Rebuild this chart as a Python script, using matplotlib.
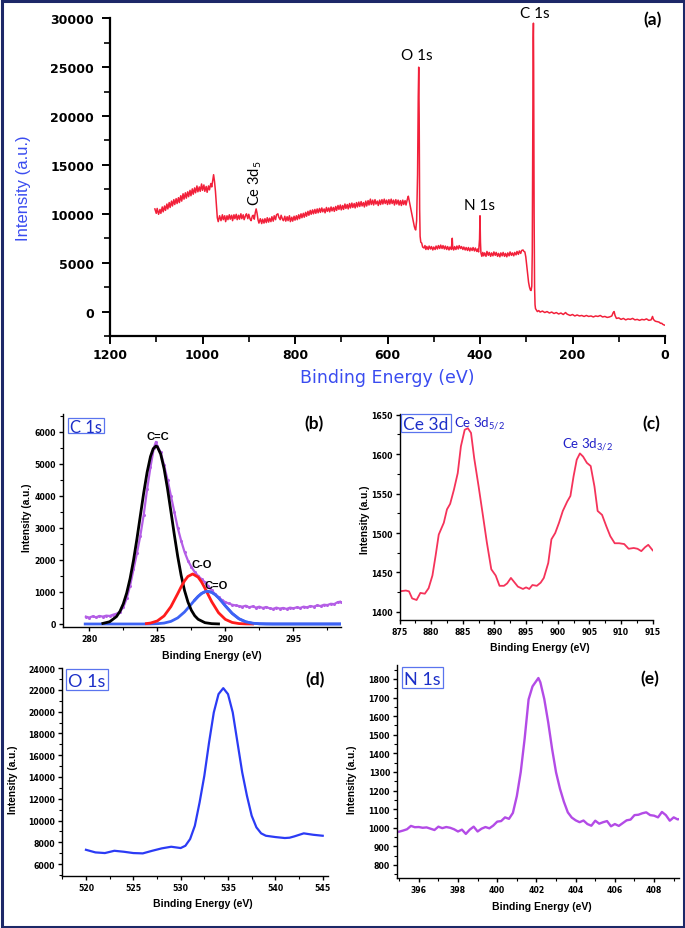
import matplotlib
matplotlib.use("Agg")
import matplotlib.pyplot as plt
from matplotlib.patches import Rectangle
from matplotlib.ticker import MultipleLocator

W, H = 685, 929

# ---------------- (a) survey spectrum ----------------
survey_be = [
    1103, 1100, 1098, 1095, 1092, 1090, 1087, 1085, 1082, 1080,
    1077, 1075, 1072, 1070, 1067, 1065, 1062, 1060, 1057, 1055,
    1052, 1050, 1047, 1045, 1042, 1040, 1037, 1035, 1032, 1030,
    1027, 1025, 1022, 1020, 1017, 1015, 1012, 1010, 1007, 1005,
    1002, 1000, 997, 995, 992, 990, 987, 985, 982, 980,
    978, 976, 974, 972, 970, 968, 966, 963, 960, 957,
    955, 952, 950, 947, 945, 942, 940, 937, 935, 932,
    930, 927, 925, 922, 920, 917, 915, 912, 910, 907,
    905, 902, 900, 897, 895, 892, 890, 888, 886, 884,
    882, 880, 878, 875, 872, 870, 867, 865, 862, 860,
    857, 855, 852, 850, 847, 845, 842, 840, 837, 835,
    832, 830, 827, 825, 822, 820, 817, 815, 812, 810,
    807, 805, 802, 800, 797, 795, 792, 790, 787, 785,
    782, 780, 777, 775, 772, 770, 767, 765, 762, 760,
    757, 755, 752, 750, 747, 745, 742, 740, 737, 735,
    732, 730, 727, 725, 722, 720, 717, 715, 712, 710,
    707, 705, 702, 700, 697, 695, 692, 690, 687, 685,
    682, 680, 677, 675, 672, 670, 667, 665, 662, 660,
    657, 655, 652, 650, 647, 645, 642, 640, 637, 635,
    632, 630, 627, 625, 622, 620, 617, 615, 612, 610,
    607, 605, 602, 600, 597, 595, 592, 590, 587, 585,
    582, 580, 577, 575, 572, 570, 567, 565, 562, 560,
    557, 555, 553, 550, 547, 544, 542, 540, 539, 537,
    535, 533.5, 532.5, 531.5, 530.5, 529.5, 528, 526, 524, 521,
    519, 517, 515, 512, 510, 507, 505, 502, 500, 497,
    495, 492, 490, 487, 485, 482, 480, 477, 475, 472,
    470, 467, 465, 462, 460, 459, 457, 455, 452, 450,
    447, 445, 442, 440, 437, 435, 432, 430, 427, 425,
    422, 420, 417, 415, 412, 410, 407, 405, 403, 401,
    400, 399, 398, 396, 394, 392, 390, 387, 385, 382,
    380, 377, 375, 372, 370, 367, 365, 362, 360, 357,
    355, 352, 350, 347, 345, 342, 340, 337, 335, 332,
    330, 327, 325, 322, 320, 317, 315, 312, 310, 307,
    305, 303, 301, 299, 297, 295, 293, 291, 289.5, 288,
    287, 286, 285, 284.5, 284, 283, 282, 281, 280, 278,
    276, 273, 270, 265, 260, 255, 250, 245, 240, 235,
    230, 225, 220, 215, 212, 210, 205, 200, 195, 190,
    185, 180, 175, 170, 165, 160, 155, 150, 145, 140,
    135, 130, 125, 120, 115, 112, 110, 108, 105, 100,
    95, 90, 85, 80, 75, 70, 65, 60, 55, 50,
    45, 40, 35, 30, 27, 25, 22, 20, 15, 12,
    10, 7, 5, 3, 0,
]
survey_counts = [
    10500, 10050, 10550, 9950, 10450, 10050, 10700, 10200, 10800, 10350,
    11000, 10500, 11150, 10650, 11300, 10800, 11450, 10950, 11550, 11050,
    11650, 11150, 11850, 11300, 12050, 11500, 12150, 11600, 12250, 11750,
    12400, 11850, 12550, 12000, 12650, 12150, 12850, 12250, 12750, 12300,
    13050, 12400, 12950, 12300, 12800, 12200, 12850, 12450, 13100, 12750,
    13400, 14000, 13300, 12300, 10900, 9600, 9200, 9800, 9300, 9900,
    9400, 9800, 9200, 9800, 9400, 9900, 9450, 9850, 9300, 9900,
    9500, 9950, 9400, 9850, 9450, 10000, 9500, 9900, 9400, 9800,
    10000, 9500, 9950, 9450, 9300, 9800, 9850, 9450, 10100, 10500,
    10050, 9400, 9050, 9500, 9000, 9450, 9050, 9500, 9100, 9600,
    9150, 9550, 9200, 9700, 9250, 9800, 9400, 9900, 10000, 9650,
    9400, 9850, 9450, 9300, 9750, 9250, 9700, 9300, 9800, 9200,
    9650, 9250, 9750, 9350, 9800, 9400, 9900, 9500, 10000, 9600,
    10050, 9650, 10150, 9750, 10250, 9850, 10350, 9950, 10400, 10000,
    10450, 10050, 10500, 10100, 10550, 10150, 10600, 10200, 10500, 10100,
    10650, 10250, 10600, 10200, 10700, 10300, 10650, 10250, 10750, 10350,
    10850, 10450, 10900, 10400, 10850, 10450, 11000, 10550, 10950, 10500,
    11050, 10600, 11100, 10650, 11050, 10600, 11150, 10700, 11200, 10750,
    11250, 10800, 11150, 10700, 11300, 10800, 11350, 10900, 11500, 10950,
    11400, 10900, 11450, 11000, 11300, 10850, 11400, 10950, 11450, 11000,
    11500, 11050, 11400, 10950, 11450, 11000, 11500, 11050, 11400, 10900,
    11450, 11000, 11400, 10900, 11350, 10850, 11400, 10950, 11350, 10900,
    11500, 11800, 11300, 10600, 9900, 9200, 8700, 8400, 8350, 9300,
    14000, 22000, 25000, 20000, 10500, 7700, 7100, 7000, 6600, 6500,
    6750, 6350, 6650, 6350, 6700, 6400, 6650, 6300, 6600, 6350,
    6700, 6400, 6750, 6450, 6800, 6450, 6750, 6400, 6700, 6350,
    6650, 6300, 6600, 6350, 7500, 6500, 6300, 6650, 6350, 6700,
    6400, 6750, 6450, 6650, 6350, 6600, 6300, 6550, 6250, 6550,
    6200, 6500, 6250, 6550, 6200, 6500, 6150, 6400, 6100, 7400,
    9800, 7100, 6000, 5650, 6050, 5700, 6000, 5650, 6150, 5750,
    6050, 5650, 6000, 5700, 6100, 5750, 6050, 5650, 5950, 5600,
    6000, 5700, 6050, 5650, 5950, 5600, 6000, 5700, 6100, 5750,
    6000, 5700, 6050, 5800, 6150, 5850, 6200, 5950, 6250, 6300,
    6150, 6100, 5600, 4700, 3700, 3000, 2500, 2200, 2150, 2600,
    6000, 17000, 28000, 29500, 25000, 10000, 2500, 700, 300, 150,
    0, 100, -50, 50, -100, 0, -150, -50, -200, -100,
    -250, -150, -300, -100, -250, -300, -400, -300, -450, -350,
    -450, -400, -500, -400, -500, -450, -550, -450, -500, -400,
    -550, -500, -600, -550, -450, -100, 0, -400, -700, -650,
    -800, -700, -850, -750, -800, -700, -850, -800, -900, -800,
    -850, -750, -900, -850, -500, -800, -950, -1000, -1050, -1100,
    -1200, -1200, -1300, -1350, -1400,
]
survey_labels = ["C 1s", "O 1s", "N 1s"]
survey_label_be = [281.4, 537.4, 400.4]
survey_label_y = [30560, 26260, 10950]

# ---------------- (b) C 1s ----------------
c1s_be = [
    279.75, 280.0, 280.25, 280.5, 280.75, 281.0, 281.25, 281.5, 281.75, 282.0,
    282.25, 282.5, 282.75, 283.0, 283.25, 283.5, 283.75, 284.0, 284.25, 284.5,
    284.75, 284.9, 285.0, 285.25, 285.5, 285.75, 286.0, 286.25, 286.5, 286.75,
    287.0, 287.25, 287.5, 287.75, 288.0, 288.25, 288.5, 288.75, 289.0, 289.25,
    289.5, 289.75, 290.0, 290.25, 290.5, 290.75, 291.0, 291.25, 291.5, 291.75,
    292.0, 292.25, 292.5, 292.75, 293.0, 293.25, 293.5, 293.75, 294.0, 294.25,
    294.5, 294.75, 295.0, 295.25, 295.5, 295.75, 296.0, 296.25, 296.5, 296.75,
    297.0, 297.25, 297.5, 297.75, 298.0, 298.25, 298.5,
]
c1s_counts = [
    230, 200, 240, 210, 250, 230, 260, 250, 290, 320,
    380, 520, 800, 1200, 1700, 2200, 2750, 3400, 4200, 4900,
    5500, 5680, 5550, 5350, 4950, 4500, 4000, 3500, 3000, 2600,
    2250, 1980, 1780, 1620, 1500, 1400, 1300, 1180, 1050, 930,
    830, 750, 680, 640, 600, 580, 560, 540, 570, 520,
    550, 510, 540, 500, 530, 490, 470, 510, 480, 500,
    470, 510, 490, 520, 500, 540, 520, 560, 540, 580,
    560, 600, 590, 630, 620, 680, 700,
]
cc_be = [281.0, 281.5, 282.0, 282.25, 282.5, 282.75, 283.0, 283.25, 283.5, 283.75,
         284.0, 284.25, 284.5, 284.7, 284.9, 285.0, 285.25, 285.5, 285.75, 286.0,
         286.25, 286.5, 286.75, 287.0, 287.25, 287.5, 287.75, 288.0, 288.5, 289.0, 289.5]
cc_fit = [18, 70, 231, 390, 627, 966, 1417, 1983, 2646, 3366,
          4086, 4730, 5224, 5467, 5550, 5529, 5299, 4843, 4223, 3512,
          2787, 2108, 1521, 1048, 688, 431, 257, 147, 41, 10, 2]
co_be = [284.2, 284.5, 285.0, 285.5, 286.0, 286.5, 286.75, 287.0, 287.25, 287.6,
         288.0, 288.25, 288.5, 288.75, 289.0, 289.5, 290.0, 290.5, 291.0, 291.5, 292.0]
co_fit = [13, 29, 95, 252, 542, 946, 1157, 1344, 1483, 1560,
          1460, 1310, 1117, 903, 694, 351, 144, 48, 13, 3, 0]
cdo_be = [279.7, 284.0, 284.5, 285.0, 285.5, 286.0, 286.5, 287.0, 287.5, 287.75,
          288.0, 288.25, 288.5, 288.7, 289.0, 289.25, 289.5, 289.75, 290.0, 290.5,
          291.0, 291.5, 292.0, 292.5, 293.0, 293.5, 298.5]
cdo_fit = [0, 0, 2, 9, 29, 81, 190, 374, 619, 746,
           860, 951, 1006, 1020, 988, 918, 817, 696, 567, 331,
           163, 67, 23, 7, 2, 0, 0]
c1s_peak_labels = ["C=C", "C-O", "C=O"]
c1s_peak_be = [285.05, 288.28, 289.33]
c1s_peak_y = [5866, 1856, 1223]

# ---------------- (c) Ce 3d ----------------
ce_be = [875, 876, 876.5, 877, 877.7, 878.3, 879, 879.6, 880.2, 880.7,
         881.2, 882, 882.5, 883, 883.6, 884.2, 884.7, 885.3, 885.8, 886.3,
         886.8, 887.5, 888.2, 888.8, 889.5, 890.2, 890.8, 891.5, 892, 892.6,
         893.2, 893.7, 894.5, 895, 895.5, 896, 896.7, 897.3, 897.8, 898.5,
         899, 899.6, 900.2, 900.8, 901.5, 902, 902.5, 903, 903.5, 904,
         904.6, 905.2, 905.8, 906.3, 907, 907.7, 908.3, 909, 909.7, 910.5,
         911.2, 912, 912.6, 913.2, 913.8, 914.3, 915]
ce_counts = [1426, 1427, 1426, 1417, 1415, 1424, 1423, 1430, 1446, 1471,
             1498, 1513, 1530, 1537, 1555, 1576, 1610, 1631, 1633, 1627,
             1595, 1559, 1521, 1488, 1454, 1446, 1433, 1433, 1436, 1443,
             1437, 1432, 1429, 1431, 1429, 1434, 1433, 1437, 1443, 1462,
             1492, 1500, 1513, 1528, 1540, 1547, 1572, 1593, 1601, 1597,
             1589, 1585, 1559, 1528, 1523, 1508, 1496, 1487, 1487, 1486,
             1480, 1481, 1480, 1477, 1482, 1485, 1478]
ce_labels = [r"Ce 3d$_{\mathregular{5/2}}$", r"Ce 3d$_{\mathregular{3/2}}$"]
ce_label_be = [887.6, 904.7]
ce_label_y = [1640, 1613]

# ---------------- (d) O 1s ----------------
o1s_be = [520, 521, 522, 523, 524, 525, 526, 527, 528, 529, 530,
          530.5, 531, 531.5, 532, 532.5, 533, 533.5, 534, 534.5, 535,
          535.5, 536, 536.5, 537, 537.5, 538, 538.5, 539,
          540, 541, 541.5, 542, 543, 544, 545]
o1s_counts = [7310, 7070, 7010, 7220, 7130, 7010, 6980, 7220, 7440, 7590, 7470,
              7680, 8300, 9520, 11660, 14110, 17170, 19930, 21610, 22160, 21610,
              19930, 17170, 14420, 12270, 10440, 9370, 8820, 8600,
              8480, 8390, 8420, 8540, 8820, 8690, 8600]

# ---------------- (e) N 1s ----------------
n1s_be = [395.0, 395.2, 395.4, 395.6, 395.8, 396.0, 396.2, 396.4, 396.6, 396.8,
          397.0, 397.2, 397.4, 397.6, 397.8, 398.0, 398.2, 398.4, 398.6, 398.8,
          399.0, 399.2, 399.4, 399.6, 399.8, 400.0, 400.2, 400.4, 400.6, 400.8,
          401.0, 401.2, 401.4, 401.6, 401.8, 402.0, 402.1,
          402.2, 402.4, 402.6, 402.8, 403.0, 403.2, 403.4, 403.6, 403.8,
          404.0, 404.2, 404.4, 404.6, 404.8, 405.0, 405.2, 405.4, 405.6, 405.8,
          406.0, 406.2, 406.4, 406.6, 406.8, 407.0, 407.2, 407.4, 407.6, 407.8,
          408.0, 408.2, 408.4, 408.6, 408.8, 409.0, 409.2, 409.4]
n1s_counts = [979, 985, 992, 1010, 1003, 1004, 1000, 1002, 995, 988,
              1006, 998, 1004, 1000, 992, 980, 990, 967, 990, 1006,
              980, 995, 1004, 997, 1012, 1033, 1036, 1056, 1048, 1080,
              1170, 1300, 1480, 1690, 1760, 1790, 1805,
              1782, 1692, 1567, 1423, 1298, 1210, 1140, 1083, 1055,
              1040, 1030, 1039, 1020, 1011, 1038, 1022, 1030, 1036, 1008,
              1020, 1010, 1025, 1040, 1044, 1068, 1070, 1078, 1083, 1068,
              1065, 1056, 1085, 1068, 1038, 1056, 1045, 1050]

# ---------------- styling ----------------
BLUE_LBL = "#3a4cf0"
BOX_TEXT = "#1c2fc8"
BOX_EDGE = "#5a74ee"
BORDER = "#1d2868"

fig = plt.figure(figsize=(W / 100, H / 100), dpi=100)
fig.patch.set_facecolor("white")


def axes_px(x0, y0, x1, y1):
    return fig.add_axes([x0 / W, 1 - y1 / H, (x1 - x0) / W, (y1 - y0) / H])


def small_style(ax, xmaj, xmin, ymaj, ymin):
    for s in ("top", "right"):
        ax.spines[s].set_visible(False)
    for s in ("left", "bottom"):
        ax.spines[s].set_linewidth(1.0)
    ax.xaxis.set_major_locator(MultipleLocator(xmaj))
    ax.xaxis.set_minor_locator(MultipleLocator(xmin))
    ax.yaxis.set_major_locator(MultipleLocator(ymaj))
    ax.yaxis.set_minor_locator(MultipleLocator(ymin))
    ax.tick_params(which="major", direction="out", length=3.2, width=1.0,
                   labelsize=5.6, pad=1.8)
    ax.tick_params(which="minor", direction="out", length=2.0, width=0.8)
    for lbl in ax.get_xticklabels() + ax.get_yticklabels():
        lbl.set_fontfamily("DejaVu Sans")
        lbl.set_fontweight("bold")


def small_labels(ax, xl, yl):
    ax.set_xlabel("Binding Energy (eV)", fontsize=7.5, fontweight="bold",
                  family="Liberation Sans", va="center")
    ax.set_ylabel("Intensity (a.u.)", fontsize=7.3, fontweight="bold",
                  family="Liberation Sans", va="center")
    ax.xaxis.set_label_coords(*xl)
    ax.yaxis.set_label_coords(*yl)


def box_label(x0, y0, x1, y1, text, size):
    fig.add_artist(Rectangle((x0 / W, 1 - y1 / H), (x1 - x0) / W, (y1 - y0) / H,
                             transform=fig.transFigure, facecolor="white",
                             edgecolor=BOX_EDGE, lw=0.9, zorder=5))
    fig.text((x0 + x1) / 2 / W, 1 - (y0 + y1) / 2 / H, text, ha="center",
             va="center_baseline", fontsize=size, family="Lato", color=BOX_TEXT,
             zorder=6)


def panel_letter(x, y, text):
    fig.text(x / W, 1 - y / H, text, ha="center", va="center", fontsize=12.5,
             family="Lato", fontweight="bold", color="black")


# ---- (a)
axa = axes_px(110, 19.3, 665, 337)
axa.plot(survey_be, survey_counts, color="#f2203a", lw=1.1)
axa.set_xlim(1200, 0)
axa.set_ylim(-2500, 30000)
for s in ("top", "right"):
    axa.spines[s].set_visible(False)
for s in ("left", "bottom"):
    axa.spines[s].set_linewidth(1.6)
axa.xaxis.set_major_locator(MultipleLocator(200))
axa.xaxis.set_minor_locator(MultipleLocator(100))
axa.yaxis.set_major_locator(MultipleLocator(5000))
axa.yaxis.set_minor_locator(MultipleLocator(2500))
axa.tick_params(which="major", direction="out", length=5.5, width=1.4, labelsize=9, pad=6)
axa.tick_params(which="minor", direction="out", length=4.0, width=1.2)
axa.tick_params(axis="x", which="major", pad=3)
for lbl in axa.get_xticklabels() + axa.get_yticklabels():
    lbl.set_fontfamily("DejaVu Sans")
    lbl.set_fontweight("bold")
axa.set_xlabel("Binding Energy (eV)", fontsize=12.5, family="DejaVu Sans",
               color=BLUE_LBL, va="center")
axa.set_ylabel("Intensity (a.u.)", fontsize=12, family="Liberation Sans",
               color=BLUE_LBL, va="center")
axa.xaxis.set_label_coords(0.499, -0.129)
axa.yaxis.set_label_coords(-0.155, 0.467)
for t, xb, yb in zip(survey_labels, survey_label_be, survey_label_y):
    axa.text(xb, yb, t, ha="center", va="center", fontsize=11, family="Lato",
             color="black", clip_on=False)
axa.text(885.3, 13270, r"Ce 3d$_{\mathregular{5}}$", rotation=90, ha="center",
         va="center", fontsize=10.5, family="Lato", color="black")
panel_letter(653, 20, "(a)")

# ---- (b)
axb = axes_px(63, 415, 341, 628)
axb.plot(cdo_be, cdo_fit, color="#3d63f5", lw=2.0, zorder=2)
axb.plot(c1s_be, c1s_counts, color="#b45ee6", lw=1.6, marker="o", ms=2.2,
         mew=0, zorder=3)
axb.plot(cc_be, cc_fit, color="black", lw=2.0, zorder=4)
axb.plot(co_be, co_fit, color="#ff1c1c", lw=2.0, zorder=4)
axb.plot(cdo_be[9:], cdo_fit[9:], color="#3d63f5", lw=2.0, zorder=4)
axb.set_xlim(278.07, 298.5)
axb.set_ylim(-94, 6550)
small_style(axb, 5, 2.5, 1000, 500)
small_labels(axb, (0.536, -0.131), (-0.129, 0.516))
for t, xb, yb in zip(c1s_peak_labels, c1s_peak_be, c1s_peak_y):
    axb.text(xb, yb, t, ha="center", va="center", fontsize=8,
             family="Liberation Sans", fontweight="bold", color="black")
box_label(67.6, 418.6, 104, 433.8, "C 1s", 12)
panel_letter(314, 424, "(b)")

# ---- (c)
axc = axes_px(399.5, 415, 652.7, 620.7)
axc.plot(ce_be, ce_counts, color="#f5335a", lw=1.3)
axc.set_xlim(875, 915)
axc.set_ylim(1390, 1651)
small_style(axc, 5, 2.5, 50, 25)
small_labels(axc, (0.555, -0.133), (-0.136, 0.49))
for t, xb, yb in zip(ce_labels, ce_label_be, ce_label_y):
    axc.text(xb, yb, t, ha="center", va="center", fontsize=9.5, family="Lato",
             color="#2020c8")
box_label(401, 415, 450.7, 432.7, "Ce 3d", 12.5)
panel_letter(651.7, 424, "(c)")

# ---- (d)
axd = axes_px(62, 669, 328, 876.7)
axd.plot(o1s_be, o1s_counts, color="#2b3bf5", lw=1.6)
axd.set_xlim(517.47, 545.56)
axd.set_ylim(4930, 24010)
small_style(axd, 5, 2.5, 2000, 1000)
small_labels(axd, (0.53, -0.131), (-0.185, 0.466))
box_label(65.7, 670, 108.3, 690.7, "O 1s", 13)
panel_letter(315, 680, "(d)")

# ---- (e)
axe = axes_px(397, 666, 679, 879)
axe.plot(n1s_be, n1s_counts, color="#b34be6", lw=1.7)
axe.set_xlim(394.89, 409.27)
axe.set_ylim(730, 1875)
small_style(axe, 2, 1, 100, 50)
small_labels(axe, (0.513, -0.131), (-0.161, 0.465))
box_label(401.7, 668, 443.3, 689, "N 1s", 13)
panel_letter(650, 679, "(e)")

# outer frame
fig.add_artist(Rectangle((1.5 / W, 1.5 / H), (W - 3) / W, (H - 3) / H,
                         transform=fig.transFigure, fill=False,
                         edgecolor=BORDER, lw=2.2, zorder=10))

fig.savefig("out.png", dpi=100)
